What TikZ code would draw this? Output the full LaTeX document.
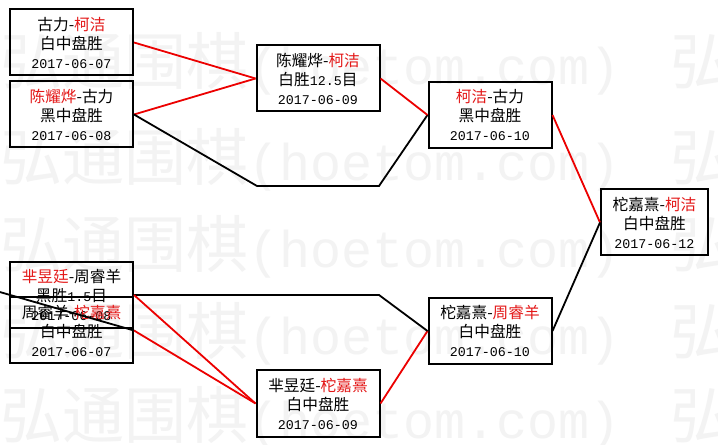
\documentclass[tikz,border=0pt]{standalone}
\usepackage{fontspec}
\newfontfamily\cjk{Noto Sans CJK SC}
\newfontfamily\monof{Liberation Mono}
\definecolor{namered}{RGB}{228,24,24}
\definecolor{linered}{RGB}{236,0,0}
\definecolor{wmgray}{RGB}{243,243,243}
\newcommand\redname[1]{\textcolor{namered}{#1}}
\newcommand\datetxt[1]{{\monof\fontsize{10pt}{14.25pt}\selectfont #1}}
\newcommand\wmtext{\cjk\fontsize{46.5pt}{50pt}\selectfont 弘通围棋{\monof\fontsize{38.75pt}{50pt}\selectfont(hoetom.com)}\hspace{37.5pt}弘}
\begin{document}
\begin{tikzpicture}[x=0.75pt,y=-0.75pt,
  game/.style={draw=black, line width=1.5pt, minimum width=92.25pt, minimum height=49.5pt,
    inner sep=0pt, align=center, font=\cjk\fontsize{11.75pt}{14.25pt}\selectfont},
  gamenarrow/.style={game, minimum width=80.25pt},
  rline/.style={draw=linered, line width=1.35pt},
  bline/.style={draw=black, line width=1.35pt},
  wm/.style={anchor=west, inner sep=0pt, text=wmgray}]
\useasboundingbox (0,0) rectangle (718,445);
\fill[white] (0,0) rectangle (718,445);
% watermark
\node[wm] (wm1) at (0,64) {\wmtext};
\node[wm] (wm2) at (0,160) {\wmtext};
\node[wm] (wm3) at (0,247) {\wmtext};
\node[wm] (wm4) at (0,334) {\wmtext};
\node[wm] (wm5) at (0,418) {\wmtext};
% boxes
\node[game] (A) at (71.5,42.5) {古力-\redname{柯洁}\\白中盘胜\\\datetxt{2017-06-07}};
\node[game] (B) at (71.5,114.5) {\redname{陈耀烨}-古力\\黑中盘胜\\\datetxt{2017-06-08}};
\node[game] (M1) at (318,78.5) {陈耀烨-\redname{柯洁}\\白胜{\monof\fontsize{10pt}{14.25pt}\selectfont 12.5}目\\\datetxt{2017-06-09}};
\node[game] (T1) at (490,115) {\redname{柯洁}-古力\\黑中盘胜\\\datetxt{2017-06-10}};
\node[gamenarrow] (F) at (654.5,222.5) {柁嘉熹-\redname{柯洁}\\白中盘胜\\\datetxt{2017-06-12}};
\node[game] (C) at (71.5,295) {\redname{芈昱廷}-周睿羊\\黑胜{\monof\fontsize{10pt}{14.25pt}\selectfont 1.5}目\\\datetxt{2017-06-08}};
\node[game] (D) at (71.5,330.5) {周睿羊-\redname{柁嘉熹}\\白中盘胜\\\datetxt{2017-06-07}};
\node[game] (M2) at (318,403.5) {芈昱廷-\redname{柁嘉熹}\\白中盘胜\\\datetxt{2017-06-09}};
\node[game] (T2) at (490,331) {柁嘉熹-\redname{周睿羊}\\白中盘胜\\\datetxt{2017-06-10}};
% free coordinates
\coordinate (tb1) at (257,186);
\coordinate (tb2) at (379,186);
\coordinate (bb1) at (379,295);
\coordinate (lft) at (-2,291.5);
% connectors
\draw[rline] (A.east) -- (M1.west);
\draw[rline] (B.east) -- (M1.west);
\draw[bline] (B.east) -- (tb1) -- (tb2) -- (T1.west);
\draw[rline] (M1.east) -- (T1.west);
\draw[rline] (T1.east) -- (F.west);
\draw[bline] (T2.east) -- (F.west);
\draw[rline] (M2.east) -- (T2.west);
\draw[bline] (C.east) -- (bb1) -- (T2.west);
\draw[rline] (C.east) -- (M2.west);
\draw[rline] (D.east) -- (M2.west);
\draw[bline] (lft) -- (D.east);
\end{tikzpicture}
\end{document}
